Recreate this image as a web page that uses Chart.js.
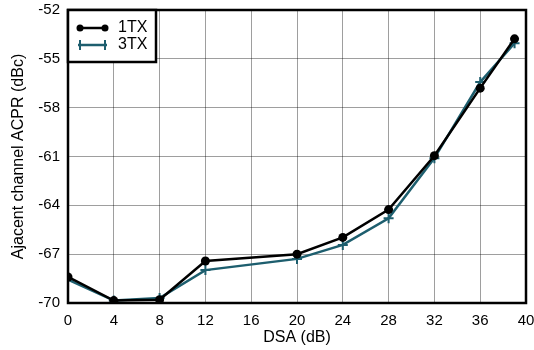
<!DOCTYPE html>
<html>
<head>
<meta charset="utf-8">
<script src="https://cdn.jsdelivr.net/npm/chart.js@4/dist/chart.umd.min.js"></script>
<style>
  body { margin: 0; background: #fff; }
  canvas { display: block; }
</style>
</head>
<body>
<canvas id="acprChart" width="534" height="350"></canvas>
<script>
// DSA attenuation settings (dB)
const dsa = [0, 4, 8, 12, 20, 24, 28, 32, 36, 39];
// adjacent channel ACPR (dBc)
const acpr1tx = [-68.4, -69.85, -69.8, -67.42, -67.0, -65.97, -64.26, -60.95, -56.8, -53.77];
const acpr3tx = [-68.56, -69.85, -69.7, -67.98, -67.29, -66.43, -64.8, -61.1, -56.43, -54.04];
const seriesNames = ['1TX', '3TX'];
const seriesColors = ['#000000', '#1d5e6e'];

const toPoints = ys => dsa.map((x, i) => ({ x: x, y: ys[i] }));

const ctx = document.getElementById('acprChart').getContext('2d');
const fontFam = '"Liberation Sans", Arial, sans-serif';

// frame round the plot area
const framePlugin = {
  id: 'frame',
  afterDatasetsDraw(chart) {
    const a = chart.chartArea;
    const c = chart.ctx;
    c.save();
    c.strokeStyle = '#000';
    c.lineWidth = 2.5;
    c.strokeRect(a.left, a.top, a.right - a.left, a.bottom - a.top);
    c.restore();
  }
};

// legend box in the top left corner
const boxLegend = {
  id: 'boxLegend',
  afterDraw(chart) {
    const a = chart.chartArea;
    const c = chart.ctx;
    const x0 = a.left, y0 = a.top;
    c.save();
    c.fillStyle = '#fff';
    c.fillRect(x0, y0, 88, 52);
    c.strokeStyle = '#000';
    c.lineWidth = 2.5;
    c.strokeRect(x0, y0, 88, 52);
    c.font = '16px ' + fontFam;
    c.textBaseline = 'middle';
    chart.data.datasets.forEach((ds, i) => {
      const y = y0 + 18 + i * 17;
      c.strokeStyle = ds.borderColor;
      c.fillStyle = ds.borderColor;
      c.lineWidth = 2.5;
      c.beginPath();
      c.moveTo(x0 + 10, y);
      c.lineTo(x0 + 39, y);
      c.stroke();
      [x0 + 12, x0 + 37].forEach(px => {
        if (ds.pointStyle === 'circle') {
          c.beginPath();
          c.arc(px, y, 3.5, 0, Math.PI * 2);
          c.fill();
        } else {
          c.lineWidth = 2;
          c.beginPath();
          c.moveTo(px, y - 5);
          c.lineTo(px, y + 5);
          c.stroke();
        }
      });
      c.fillStyle = '#000';
      c.fillText(ds.label, x0 + 50, y);
    });
    c.restore();
  }
};

new Chart(ctx, {
  type: 'line',
  plugins: [framePlugin, boxLegend],
  data: {
    datasets: [
      {
        label: seriesNames[0],
        data: toPoints(acpr1tx),
        borderColor: seriesColors[0],
        backgroundColor: seriesColors[0],
        borderWidth: 2.5,
        pointStyle: 'circle',
        pointRadius: 4.5,
        pointBorderWidth: 0
      },
      {
        label: seriesNames[1],
        data: toPoints(acpr3tx),
        borderColor: seriesColors[1],
        backgroundColor: seriesColors[1],
        borderWidth: 2.5,
        pointStyle: 'cross',
        pointRadius: 5,
        pointBorderWidth: 2
      }
    ]
  },
  options: {
    responsive: false,
    animation: false,
    layout: {
      padding: { top: 0, right: 0, left: 4, bottom: 3 }
    },
    scales: {
      x: {
        type: 'linear',
        min: 0,
        max: 40,
        ticks: {
          stepSize: 4,
          color: '#000',
          padding: 9,
          maxRotation: 0,
          font: { family: fontFam, size: 15 }
        },
        grid: { color: 'rgba(0,0,0,0.38)', lineWidth: 1, drawTicks: false },
        border: { display: false },
        title: {
          display: true,
          text: 'DSA (dB)',
          color: '#000',
          padding: { top: -1, bottom: 0 },
          font: { family: fontFam, size: 16 }
        },
        afterFit(scale) {
          scale.height = 44;
          scale.paddingLeft = 0;
          scale.paddingRight = 8;
        }
      },
      y: {
        min: -70,
        max: -52,
        ticks: {
          stepSize: 3,
          color: '#000',
          padding: 8,
          font: { family: fontFam, size: 15 }
        },
        grid: { color: 'rgba(0,0,0,0.38)', lineWidth: 1, drawTicks: false },
        border: { display: false },
        title: {
          display: true,
          text: 'Ajacent channel ACPR (dBc)',
          color: '#000',
          padding: { top: 5, bottom: 0 },
          font: { family: fontFam, size: 16 }
        },
        afterFit(scale) {
          scale.width = 64;
          scale.paddingTop = 10;
          scale.paddingBottom = 0;
        }
      }
    },
    plugins: {
      legend: { display: false },
      tooltip: { enabled: false }
    }
  }
});
</script>
</body>
</html>
